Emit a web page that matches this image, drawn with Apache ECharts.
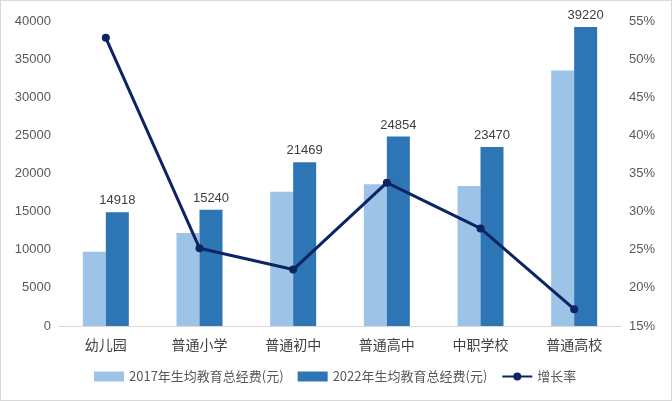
<!DOCTYPE html><html><head><meta charset="utf-8"><script src="https://cdn.jsdelivr.net/npm/echarts@6/dist/echarts.min.js"></script>
<style>html,body{margin:0;padding:0;}#c{width:670px;height:399px;border:1px solid #d9d9d9;}</style></head><body><div id="c"></div><script>
const categories=['幼儿园','普通小学','普通初中','普通高中','中职学校','普通高校'];
const v2017=[9750,12200,17600,18600,18350,33500];
const v2022=[14918,15240,21469,24854,23470,39220];
const growth=[52.8,25.2,22.4,33.8,27.8,17.2];
const ch=echarts.init(document.getElementById('c'));
const f='"Microsoft YaHei","Noto Sans CJK SC",sans-serif';
ch.setOption({
grid:{left:58,right:50,top:20,bottom:74},
legend:{bottom:12,left:88,itemGap:14,textStyle:{fontFamily:f,fontSize:13,color:'#595959'},
 data:[{name:'2017年生均教育总经费(元)',icon:'rect'},{name:'2022年生均教育总经费(元)',icon:'rect'},{name:'增长率'}],itemWidth:30,itemHeight:10},
xAxis:{type:'category',data:categories,axisTick:{show:false},axisLine:{lineStyle:{color:'#d9d9d9'}},axisLabel:{fontFamily:f,fontSize:14,color:'#404040',margin:12}},
yAxis:[{type:'value',min:0,max:40000,interval:5000,splitLine:{show:false},axisLine:{show:false},axisLabel:{fontSize:13,color:'#595959',formatter:v=>String(v)}},
{type:'value',min:15,max:55,interval:5,splitLine:{show:false},axisLabel:{formatter:'{value}%',fontSize:13,color:'#595959'}}],
series:[
{name:'2017年生均教育总经费(元)',type:'bar',data:v2017,barWidth:23,barGap:'0%',itemStyle:{color:'#9dc3e6'}},
{name:'2022年生均教育总经费(元)',type:'bar',data:v2022,barWidth:23,itemStyle:{color:'#2e75b6'},label:{show:true,position:'top',fontSize:13,color:'#404040'}},
{name:'增长率',type:'line',yAxisIndex:1,data:growth,symbol:'circle',symbolSize:8,lineStyle:{color:'#0c2461',width:3},itemStyle:{color:'#0c2461'}}
]});
</script></body></html>
